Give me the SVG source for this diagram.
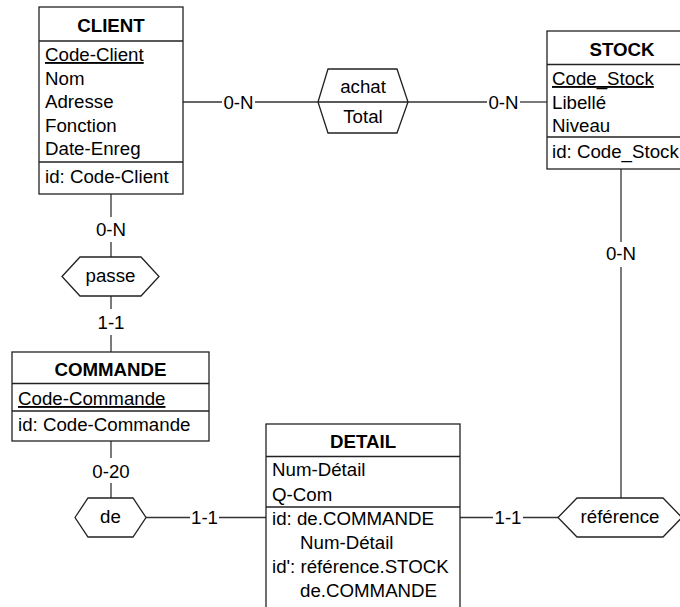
<svg xmlns="http://www.w3.org/2000/svg" width="680" height="607" viewBox="0 0 680 607">
  <style>
    text { font-family: "Liberation Sans", Arial, sans-serif; font-size: 18.7px; fill: #000; }
    .title { font-weight: bold; text-anchor: middle; }
    .mid { text-anchor: middle; }
    .uid { text-decoration: underline; }
    .box { fill: #fff; stroke: #222; stroke-width: 1.3; }
    .sep { stroke: #222; stroke-width: 1.3; }
    .rel { fill: #fff; stroke: #222; stroke-width: 1.3; }
    .link { stroke: #333; stroke-width: 1.3; fill: none; }
  </style>

  <rect width="680" height="607" fill="#fff"/>

  <!-- connectors and their cardinality labels -->
  <g id="connectors">
    <!-- CLIENT - achat -->
    <line class="link" x1="183" y1="102" x2="222" y2="102"/>
    <line class="link" x1="255" y1="102" x2="318" y2="102"/>
    <text class="mid" x="238.5" y="108.7">0-N</text>
    <!-- achat - STOCK -->
    <line class="link" x1="408" y1="102" x2="487" y2="102"/>
    <line class="link" x1="520" y1="102" x2="547" y2="102"/>
    <text class="mid" x="503.5" y="108.7">0-N</text>
    <!-- CLIENT - passe -->
    <line class="link" x1="111" y1="194" x2="111" y2="217"/>
    <line class="link" x1="111" y1="242" x2="111" y2="257"/>
    <text class="mid" x="111" y="236">0-N</text>
    <!-- passe - COMMANDE -->
    <line class="link" x1="111" y1="296" x2="111" y2="309"/>
    <line class="link" x1="111" y1="335" x2="111" y2="352"/>
    <text class="mid" x="111" y="329">1-1</text>
    <!-- COMMANDE - de -->
    <line class="link" x1="111" y1="441" x2="111" y2="458"/>
    <line class="link" x1="111" y1="483" x2="111" y2="498"/>
    <text class="mid" x="111" y="477.5">0-20</text>
    <!-- de - DETAIL -->
    <line class="link" x1="146" y1="517.5" x2="190" y2="517.5"/>
    <line class="link" x1="219" y1="517.5" x2="266" y2="517.5"/>
    <text class="mid" x="204.5" y="524.2">1-1</text>
    <!-- DETAIL - reference -->
    <line class="link" x1="460" y1="517.5" x2="493" y2="517.5"/>
    <line class="link" x1="523" y1="517.5" x2="558" y2="517.5"/>
    <text class="mid" x="508" y="524.2">1-1</text>
    <!-- STOCK - reference -->
    <line class="link" x1="621" y1="169" x2="621" y2="242"/>
    <line class="link" x1="621" y1="267" x2="621" y2="498"/>
    <text class="mid" x="621" y="260">0-N</text>
  </g>

  <!-- entity CLIENT -->
  <g id="client">
    <rect class="box" x="39" y="7" width="144" height="187"/>
    <text class="title" x="111" y="32">CLIENT</text>
    <line class="sep" x1="39" y1="41" x2="183" y2="41"/>
    <text class="uid" x="45" y="61">Code-Client</text>
    <text x="45" y="84.5">Nom</text>
    <text x="45" y="108">Adresse</text>
    <text x="45" y="131.5">Fonction</text>
    <text x="45" y="155">Date-Enreg</text>
    <line class="sep" x1="39" y1="162" x2="183" y2="162"/>
    <text x="45" y="183">id: Code-Client</text>
  </g>

  <!-- entity STOCK -->
  <g id="stock">
    <rect class="box" x="547" y="31" width="150" height="138"/>
    <text class="title" x="622" y="56">STOCK</text>
    <line class="sep" x1="547" y1="64.5" x2="697" y2="64.5"/>
    <text class="uid" x="552" y="85">Code_Stock</text>
    <text x="552" y="108.5">Libellé</text>
    <text x="552" y="132">Niveau</text>
    <line class="sep" x1="547" y1="137" x2="697" y2="137"/>
    <text x="552" y="158">id: Code_Stock</text>
  </g>

  <!-- entity COMMANDE -->
  <g id="commande">
    <rect class="box" x="12" y="352" width="197" height="89"/>
    <text class="title" x="110.5" y="376">COMMANDE</text>
    <line class="sep" x1="12" y1="383.5" x2="209" y2="383.5"/>
    <text class="uid" x="18" y="405">Code-Commande</text>
    <line class="sep" x1="12" y1="411" x2="209" y2="411"/>
    <text x="18" y="431">id: Code-Commande</text>
  </g>

  <!-- entity DETAIL (runs past the lower edge) -->
  <g id="detail">
    <rect class="box" x="266" y="424" width="194" height="200"/>
    <text class="title" x="363" y="448">DETAIL</text>
    <line class="sep" x1="266" y1="456.5" x2="460" y2="456.5"/>
    <text x="272" y="476">Num-Détail</text>
    <text x="272" y="500.5">Q-Com</text>
    <line class="sep" x1="266" y1="507" x2="460" y2="507"/>
    <text x="272" y="525">id: de.COMMANDE</text>
    <text x="300" y="549">Num-Détail</text>
    <text x="272" y="573">id': référence.STOCK</text>
    <text x="300" y="597">de.COMMANDE</text>
  </g>

  <!-- relationship achat -->
  <g id="achat">
    <polygon class="rel" points="318,102 328,69 397,69 408,102 397,133 328,133"/>
    <line class="sep" x1="318" y1="102" x2="408" y2="102"/>
    <text class="mid" x="363" y="93">achat</text>
    <text class="mid" x="363" y="123">Total</text>
  </g>

  <!-- relationship passe -->
  <g id="passe">
    <polygon class="rel" points="62,276.5 80,257 141,257 159,276.5 141,296 80,296"/>
    <text class="mid" x="110.5" y="281.5">passe</text>
  </g>

  <!-- relationship de -->
  <g id="de">
    <polygon class="rel" points="75,517.5 88,498 133,498 146,517.5 133,537 88,537"/>
    <text class="mid" x="110.5" y="523">de</text>
  </g>

  <!-- relationship reference -->
  <g id="reference">
    <polygon class="rel" points="558,517.5 577,498 663,498 682,517.5 663,537 577,537"/>
    <text class="mid" x="620" y="523">référence</text>
  </g>
</svg>
